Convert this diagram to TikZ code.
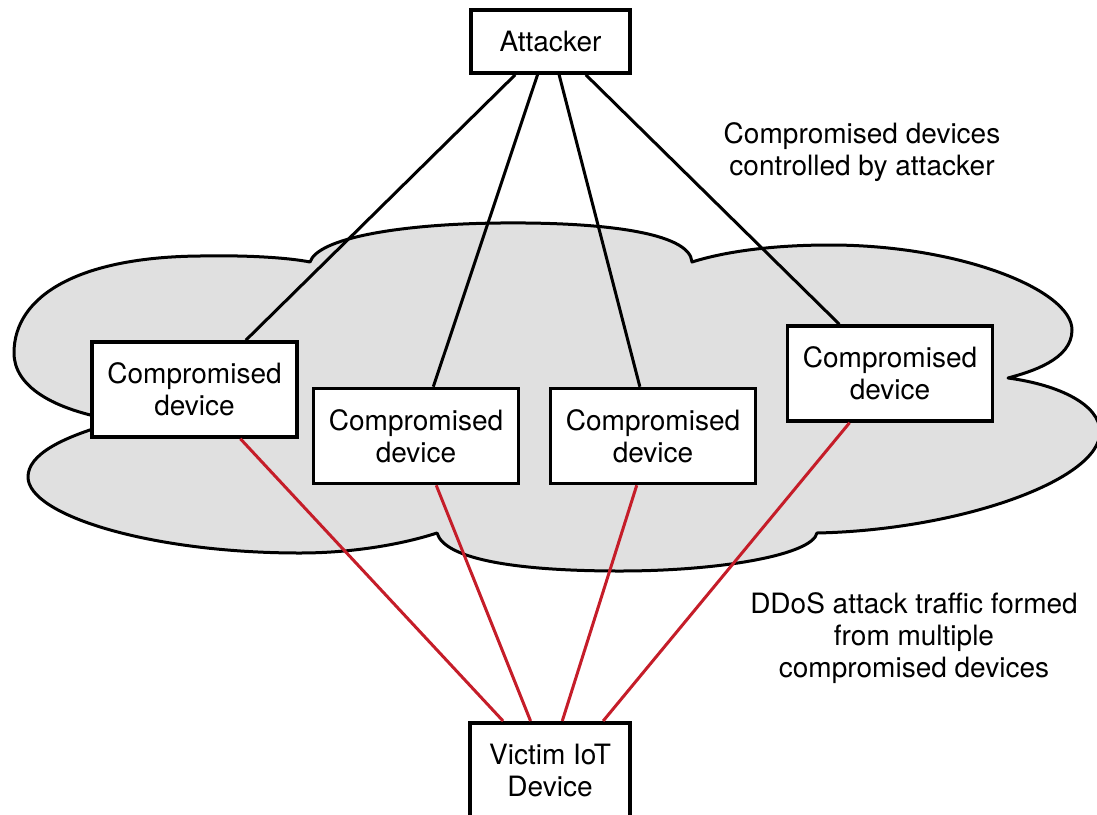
\documentclass[tikz,border=0pt]{standalone}
\usepackage{fontspec}
\setmainfont{TeX Gyre Heros}
\usetikzlibrary{calc}
\definecolor{attackred}{RGB}{197,29,41}
\definecolor{cloudgray}{RGB}{224,224,224}
\begin{document}
\begin{tikzpicture}[x=1pt,y=-1pt,
  txt/.style={font=\fontsize{28}{32}\selectfont, align=center},
  box/.style={txt, draw, fill=white, line width=3.5pt, inner sep=0pt},
  dev/.style={box, minimum width=205pt, minimum height=95pt},
  ctrl/.style={line width=3pt, black},
  flood/.style={line width=3pt, attackred},
  cloud/.style={draw=black, fill=cloudgray, line width=3pt, line join=round}]
\useasboundingbox (0,0) rectangle (1097,814);

% botnet cloud
\path[cloud]
 (120,421)
 .. controls (50,410) and (14,385) .. (14,353)
 .. controls (14,295) and (80,257) .. (200,256)
 .. controls (250,255) and (290,258) .. (310,262)
 .. controls (318,238) and (400,224) .. (500,223)
 .. controls (600,222) and (690,232) .. (692,262)
 .. controls (730,250) and (780,245) .. (830,245)
 .. controls (960,245) and (1072,290) .. (1072,330)
 .. controls (1072,360) and (1030,372) .. (1008,378)
 .. controls (1060,385) and (1100,405) .. (1100,432)
 .. controls (1100,480) and (960,530) .. (817,533)
 .. controls (812,555) and (720,571) .. (620,571)
 .. controls (520,571) and (445,560) .. (437,533)
 .. controls (400,545) and (350,553) .. (300,553)
 .. controls (150,553) and (28,515) .. (28,477)
 .. controls (28,455) and (60,437) .. (120,421)
 -- cycle;

% nodes
\node[box, minimum width=159pt, minimum height=63pt] (attacker) at (550.5,41.5) {Attacker};
\node[dev] (c1) at (194.5,389.5) {Compromised\\device};
\node[dev] (c2) at (416,436) {Compromised\\device};
\node[dev] (c3) at (653,436) {Compromised\\device};
\node[dev] (c4) at (890,373.5) {Compromised\\device};
\node[box, minimum width=160pt, minimum height=96pt, anchor=north] (victim) at (550,721) {Victim IoT\\Device};

\node[txt] (note1) at (862,152) {Compromised devices\\controlled by attacker};
\node[txt] (note2) at (914,638) {DDoS attack traffic formed\\from multiple\\compromised devices};

% command links
\draw[ctrl] ($(attacker.south west)!0.283!(attacker.south east)$) -- ($(c1.north west)!0.746!(c1.north east)$);
\draw[ctrl] ($(attacker.south west)!0.420!(attacker.south east)$) -- ($(c2.north west)!0.583!(c2.north east)$);
\draw[ctrl] ($(attacker.south west)!0.553!(attacker.south east)$) -- ($(c3.north west)!0.437!(c3.north east)$);
\draw[ctrl] ($(attacker.south west)!0.717!(attacker.south east)$) -- ($(c4.north west)!0.257!(c4.north east)$);

% attack traffic
\draw[flood] ($(c1.south west)!0.720!(c1.south east)$) -- ($(victim.north west)!0.213!(victim.north east)$);
\draw[flood] ($(c2.south west)!0.597!(c2.south east)$) -- ($(victim.north west)!0.381!(victim.north east)$);
\draw[flood] ($(c3.south west)!0.422!(c3.south east)$) -- ($(victim.north west)!0.575!(victim.north east)$);
\draw[flood] ($(c4.south west)!0.306!(c4.south east)$) -- ($(victim.north west)!0.825!(victim.north east)$);
\end{tikzpicture}
\end{document}
